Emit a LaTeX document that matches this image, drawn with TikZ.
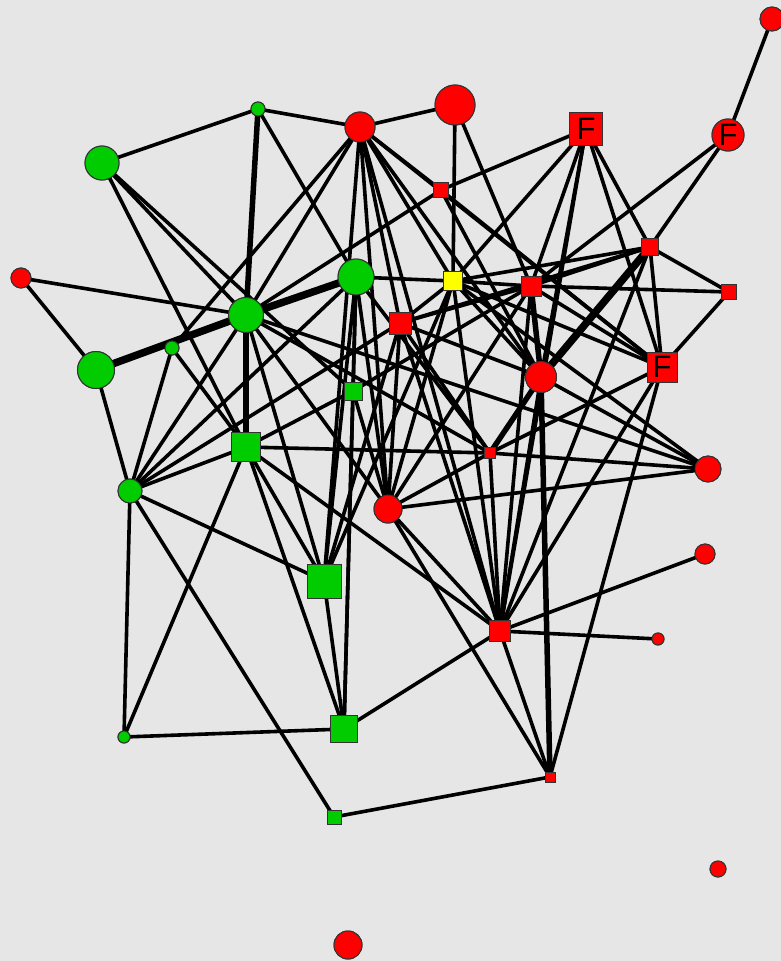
\documentclass[tikz,border=0pt]{standalone}
\usepackage{fontspec}
\setmainfont{Liberation Sans}
\definecolor{bgc}{RGB}{230,230,230}
\definecolor{gn}{RGB}{0,204,0}
\definecolor{rd}{RGB}{255,0,0}
\definecolor{yl}{RGB}{255,255,0}
\begin{document}
\begin{tikzpicture}[x=1pt,y=-1pt,
  base/.style={draw=black!80,line width=1pt,inner sep=0pt,font=\fontsize{31}{31}\selectfont},
  rc/.style={base,circle,fill=rd,minimum size=#1pt},
  gc/.style={base,circle,fill=gn,minimum size=#1pt},
  rq/.style={base,rectangle,fill=rd,minimum size=#1pt},
  gq/.style={base,rectangle,fill=gn,minimum size=#1pt},
  yq/.style={base,rectangle,fill=yl,minimum size=#1pt},
  e/.style={line width=3.6pt},
  et/.style={line width=5.5pt},
  ett/.style={line width=7.5pt}]
\fill[bgc] (0,0) rectangle (781,961);
\useasboundingbox (0,0) rectangle (781,961);
\clip (0,0) rectangle (781,961);
% nodes (positions)
\path
 (772,19) node[rc=24] (A) {}
 (728,135) node[rc=32] (Fc) {F}
 (586,129) node[rq=33] (Fs1) {F}
 (455,105) node[rc=40] (Rb) {}
 (360,127) node[rc=30] (R1) {}
 (258,109) node[gc=14] (g1) {}
 (102,163) node[gc=34] (G1) {}
 (441,190) node[rq=15] (q1) {}
 (650,247) node[rq=17] (q2) {}
 (729,292) node[rq=15] (q3) {}
 (21,278) node[rc=20] (Rl) {}
 (356,277) node[gc=36] (G2) {}
 (453,281) node[yq=19] (Y) {}
 (531,286) node[rq=20] (q4) {}
 (400,323) node[rq=22] (q5) {}
 (246,315) node[gc=35] (G3) {}
 (172,348) node[gc=14] (g2) {}
 (96,370) node[gc=37] (G4) {}
 (662,367) node[rq=30] (Fs2) {F}
 (541,377) node[rc=31] (R2) {}
 (353,391) node[gq=18] (s1) {}
 (246,447) node[gq=29] (s2) {}
 (490,453) node[rq=11] (qs) {}
 (708,469) node[rc=26] (R3) {}
 (130,491) node[gc=24] (G5) {}
 (388,509) node[rc=28] (R4) {}
 (705,554) node[rc=20] (R5) {}
 (324,581) node[gq=34] (s3) {}
 (500,631) node[rq=21] (q6) {}
 (658,639) node[rc=12] (R6) {}
 (344,729) node[gq=27] (s4) {}
 (124,737) node[gc=12] (g3) {}
 (550,777) node[rq=10] (q7) {}
 (334,817) node[gq=14] (s5) {}
 (718,869) node[rc=16] (R7) {}
 (348,945) node[rc=28] (R8) {};
% edges
\foreach \a/\b in {A/Fc,Fc/q2,Fc/q4,Fs1/q1,Fs1/Y,Fs1/q4,Fs1/R2,Fs1/q6,Fs1/Fs2,Fs1/q2,
 Rb/R1,Rb/Y,Rb/q4,R1/g1,R1/G3,R1/g2,R1/q1,R1/q5,R1/R4,R1/s3,R1/Y,R1/R2,R1/Fs2,R1/q6,
 g1/G1,g1/G2,G1/G3,G1/s1,G1/s2,Rl/G4,Rl/G3,G4/G5,g2/G5,g2/s2,
 G3/G5,G3/s3,G3/R4,G3/qs,G3/R3,G3/q1,G2/Y,G2/s1,G2/s3,G2/s4,G2/R4,G2/qs,
 Y/q4,Y/q5,Y/s3,Y/R4,Y/R2,Y/q2,Y/Fs2,Y/q6,Y/R3,q1/R2,q1/Fs2,q2/q3,q2/Fs2,q2/q4,q2/q5,q2/q6,
 q3/q4,q3/Fs2,q4/q6,q4/Fs2,q4/R4,q4/q5,q4/s1,Fs2/qs,Fs2/q7,Fs2/q6,R2/R3,R2/q6,R2/q5,
 qs/s2,qs/q6,qs/R3,qs/R4,q5/qs,q5/s3,q5/R4,q5/q6,R3/R4,R4/q6,R4/q7,R4/s1,
 s1/s2,s1/s4,s2/G5,s2/s3,s2/s4,s2/q6,s2/g3,G5/g3,G5/s5,G5/s3,G5/G2,G5/q5,
 s3/s4,s4/g3,s4/q6,q6/R5,q6/R6,q6/q7,q7/s5}
 \draw[e] (\a.center) -- (\b.center);
\foreach \a/\b in {g1/G3,G3/s2,q4/R2,R2/qs,R2/q7}
 \draw[et] (\a.center) -- (\b.center);
\foreach \a/\b in {G4/G3,G3/G2,q2/R2}
 \draw[ett] (\a.center) -- (\b.center);
% redraw nodes on top
\path
 (772,19) node[rc=24] {}
 (728,135) node[rc=32] {F}
 (586,129) node[rq=33] {F}
 (455,105) node[rc=40] {}
 (360,127) node[rc=30] {}
 (258,109) node[gc=14] {}
 (102,163) node[gc=34] {}
 (441,190) node[rq=15] {}
 (650,247) node[rq=17] {}
 (729,292) node[rq=15] {}
 (21,278) node[rc=20] {}
 (356,277) node[gc=36] {}
 (453,281) node[yq=19] {}
 (531,286) node[rq=20] {}
 (400,323) node[rq=22] {}
 (246,315) node[gc=35] {}
 (172,348) node[gc=14] {}
 (96,370) node[gc=37] {}
 (662,367) node[rq=30] {F}
 (541,377) node[rc=31] {}
 (353,391) node[gq=18] {}
 (246,447) node[gq=29] {}
 (490,453) node[rq=11] {}
 (708,469) node[rc=26] {}
 (130,491) node[gc=24] {}
 (388,509) node[rc=28] {}
 (705,554) node[rc=20] {}
 (324,581) node[gq=34] {}
 (500,631) node[rq=21] {}
 (658,639) node[rc=12] {}
 (344,729) node[gq=27] {}
 (124,737) node[gc=12] {}
 (550,777) node[rq=10] {}
 (334,817) node[gq=14] {}
 (718,869) node[rc=16] {}
 (348,945) node[rc=28] {};
\end{tikzpicture}
\end{document}
